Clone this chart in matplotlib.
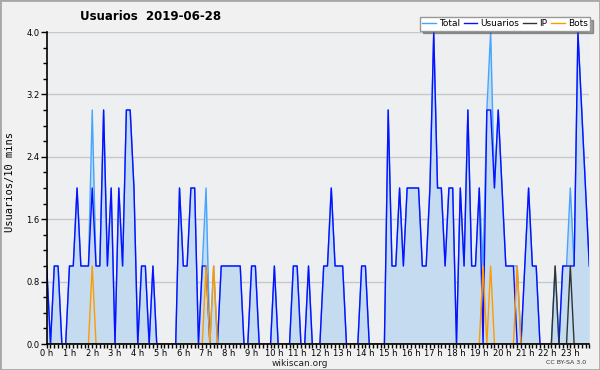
import numpy as np
import matplotlib
matplotlib.use('Agg')
import matplotlib.pyplot as plt
from matplotlib.patches import Rectangle

# Datos (cada 10 minutos)
usuarios = [1,0,1,1,0,0,1,1,2,1, 1,1,2,1,1,3,1,2,0,2, 1,3,3,2,0,1,1,0,1,0,
            0,0,0,0,0,2,1,1,2,2, 0,1,1,0,0,0,1,1,1,1, 1,1,0,0,1,1,0,0,0,0,
            1,0,0,0,0,1,1,0,0,1, 0,0,0,1,1,2,1,1,1,0, 0,0,0,1,1,0,0,0,0,0,
            3,1,1,2,1,2,2,2,2,1, 1,2,4,2,2,1,2,2,0,2, 1,3,1,1,2,0,3,3,2,3,
            2,1,1,1,0,0,1,2,1,1, 0,0,0,0,0,0,1,1,1,1, 4,3,2,1]
bots_idx = [12, 42, 44, 115, 117, 124]
ip_idx = [134, 138]
horas = ['%d h' % h for h in range(24)]

u = np.array(usuarios, dtype=float)
bots = np.zeros(len(u)); bots[bots_idx] = 1
ip = np.zeros(len(u)); ip[ip_idx] = 1
total = u + ip + bots
t = np.arange(len(u)) / 6.

fig = plt.figure(figsize=(6, 3.7), dpi=100, facecolor='#f1f1f1')
ax = fig.add_axes([46.7/600, 1-344/370, (589.3-46.7)/600, (344-32)/370])
ax.set_facecolor('#eeeff1')

ax.fill_between(t, total, 0, color='#c5dcf0', lw=0, zorder=1)
ax.plot(t, total, color='#44a4ff', lw=1.0, label='Total', zorder=2)
ax.plot(t, u, color='#0a10ff', lw=1.0, label='Usuarios', zorder=2.1)
ax.plot(t, ip, color='#333333', lw=1.0, label='IP', zorder=2.2)
ax.plot(t, bots, color='#ff9900', lw=1.0, label='Bots', zorder=2.3)

ax.set_xlim(0, t[-1])
ax.set_ylim(0, 4.0)
ax.set_yticks(np.arange(0, 4.01, 0.8))
ax.set_yticklabels(['%.1f' % v for v in np.arange(0, 4.01, 0.8)])
ax.set_yticks(np.arange(0, 4.01, 0.2), minor=True)
ax.set_xticks(range(24))
ax.set_xticklabels(horas)
ax.set_xticks(np.arange(0, t[-1]+0.01, 1/6.), minor=True)
ax.tick_params(axis='both', which='major', labelsize=6, direction='out', length=4, width=1, pad=1, colors='black')
ax.tick_params(axis='x', which='major', length=3, pad=0.5)
ax.tick_params(axis='both', which='minor', direction='out', length=3, width=1)
ax.grid(axis='y', color='#c8c8c8', lw=1)
ax.set_axisbelow(True)
for s in ['top', 'right']:
    ax.spines[s].set_visible(False)
ax.spines['left'].set_linewidth(1.2)
ax.spines['bottom'].set_linewidth(1.2)

fig.text(151/600, 1-16/370, 'Usuarios  2019-06-28', ha='center', va='center', fontsize=8.5, fontweight='bold')
fig.text(10/600, 1-182/370, 'Usuarios/10 mins', rotation=90, ha='center', va='center', fontsize=7.5, family='DejaVu Sans Mono')
fig.text(300/600, 1-363/370, 'wikiscan.org', ha='center', va='center', fontsize=6.5, color='#222222')
fig.text(566/600, 1-363/370, 'CC BY-SA 3.0', ha='center', va='center', fontsize=4.5, color='#333333')

leg = ax.legend(loc='upper right', bbox_to_anchor=(590/600, 1-17/370), bbox_transform=fig.transFigure,
                ncol=4, fontsize=6.5, frameon=True, fancybox=False, shadow=True, framealpha=1,
                handlelength=1.5, handletextpad=0.35, columnspacing=0.4, borderpad=0.25, borderaxespad=0)
leg.get_frame().set_edgecolor('#999999')
leg.get_frame().set_linewidth(1)

fig.patches.append(Rectangle((0, 0), 1, 1, transform=fig.transFigure, fill=False, edgecolor='#a8a8a8', lw=2))

fig.savefig('out.png', dpi=100, facecolor=fig.get_facecolor())
